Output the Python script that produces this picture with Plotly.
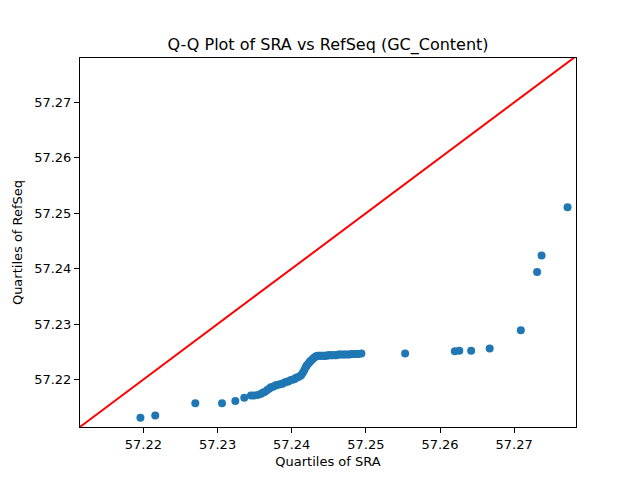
import plotly.graph_objects as go

sra = [57.2196, 57.2216, 57.2270, 57.2306, 57.2324, 57.2336, 57.2345, 57.2349, 57.2354, 57.2358,
       57.2361, 57.2364, 57.2367, 57.2370, 57.2372, 57.2375, 57.2378, 57.2380, 57.2383, 57.2386,
       57.2388, 57.2391, 57.2394, 57.2396, 57.2399, 57.2402, 57.2404, 57.2406, 57.2408, 57.2411,
       57.2413, 57.2415, 57.2417, 57.2419, 57.2420, 57.2422, 57.2424, 57.2425, 57.2427, 57.2429,
       57.2431, 57.2433, 57.2435, 57.2437, 57.2439, 57.2441, 57.2443, 57.2445, 57.2447, 57.2449,
       57.2451, 57.2453, 57.2455, 57.2458, 57.2460, 57.2463, 57.2466, 57.2469, 57.2472, 57.2475,
       57.2478, 57.2481, 57.2484, 57.2487, 57.2490, 57.2494, 57.2553, 57.2620, 57.2626, 57.2642,
       57.2667, 57.2709, 57.2731, 57.2737, 57.2772]

refseq = [57.2131, 57.2135, 57.2157, 57.2157, 57.2161, 57.2167, 57.2171, 57.2171, 57.2172, 57.2174,
          57.2176, 57.2178, 57.2181, 57.2184, 57.2186, 57.2187, 57.2189, 57.2190, 57.2191, 57.2192,
          57.2193, 57.2195, 57.2196, 57.2197, 57.2199, 57.2200, 57.2201, 57.2203, 57.2204, 57.2206,
          57.2208, 57.2212, 57.2217, 57.2222, 57.2225, 57.2228, 57.2231, 57.2233, 57.2235, 57.2238,
          57.2240, 57.2242, 57.2243, 57.2243, 57.2243, 57.2243, 57.2243, 57.2243, 57.2243, 57.2244,
          57.2244, 57.2244, 57.2244, 57.2244, 57.2244, 57.2245, 57.2245, 57.2245, 57.2245, 57.2245,
          57.2245, 57.2246, 57.2246, 57.2246, 57.2246, 57.2247, 57.2247, 57.2251, 57.2252, 57.2252,
          57.2256, 57.2289, 57.2394, 57.2424, 57.2511]

x_range = [57.21145, 57.27834]
y_range = [57.21143, 57.27802]
tick_vals = [57.22, 57.23, 57.24, 57.25, 57.26, 57.27]
tick_text = ["57.22", "57.23", "57.24", "57.25", "57.26", "57.27"]

ref_lo = min(x_range[0], y_range[0])
ref_hi = max(x_range[1], y_range[1])

fig = go.Figure()
fig.add_trace(go.Scatter(
    x=sra, y=refseq, mode="markers",
    marker=dict(color="#1f77b4", size=8, line=dict(width=0)),
    showlegend=False, hoverinfo="x+y"))
fig.add_trace(go.Scatter(
    x=[ref_lo, ref_hi], y=[ref_lo, ref_hi], mode="lines",
    line=dict(color="red", width=2), showlegend=False, hoverinfo="skip"))

axis_common = dict(
    showgrid=False, zeroline=False, showline=True, linecolor="black", linewidth=1,
    mirror=True, ticks="outside", ticklen=5, tickwidth=1, tickcolor="black",
    tickfont=dict(family="DejaVu Sans", size=13, color="black"),
    tickmode="array", tickvals=tick_vals, ticktext=tick_text,
)

fig.update_layout(
    width=640, height=480,
    paper_bgcolor="white", plot_bgcolor="white",
    margin=dict(l=80, r=64, t=58, b=53),
    title=dict(text="Q-Q Plot of SRA vs RefSeq (GC_Content)", x=328 / 640, xanchor="center",
               y=1 - 44 / 480, yanchor="middle",
               font=dict(family="DejaVu Sans", size=16, color="black")),
    xaxis=dict(range=x_range, title=dict(text="Quartiles of SRA", standoff=6,
               font=dict(family="DejaVu Sans", size=13, color="black")), **axis_common),
    yaxis=dict(range=y_range, title=dict(text="Quartiles of RefSeq", standoff=8,
               font=dict(family="DejaVu Sans", size=13, color="black")), **axis_common),
)

fig.write_html("out.html")
